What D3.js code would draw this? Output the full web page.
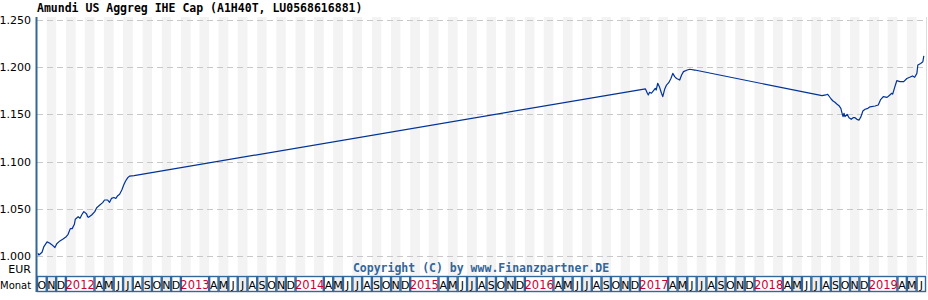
<!DOCTYPE html>
<html>
<head>
<meta charset="utf-8">
<script src="https://cdn.jsdelivr.net/npm/d3@7"></script>
<style>
  html, body { margin: 0; padding: 0; background: #ffffff; }
  svg { display: block; }
</style>
</head>
<body>
<svg id="chart" width="928" height="300"></svg>
<script>
// ---------- DATA ----------
const title = "Amundi US Aggreg IHE Cap (A1H40T, LU0568616881)";
const copyright = "Copyright (C) by www.Finanzpartner.DE";
const currencyLabel = "EUR";
const monthAxisLabel = "Monat";
const monthLetters = ["J","F","M","A","M","J","J","A","S","O","N","D"];
const yTicks = [1.000, 1.050, 1.100, 1.150, 1.200, 1.250];
const periodStart = "2011-10-01";
const periodEnd = "2019-07-01";

const dates = [
  "2011-10-04","2011-10-07","2011-10-17","2011-10-23","2011-11-02","2011-11-11","2011-11-17","2011-11-27",
  "2011-12-03","2011-12-13","2011-12-23","2012-01-02","2012-01-08","2012-01-15","2012-01-21","2012-01-28",
  "2012-01-31","2012-02-09","2012-02-15","2012-02-21","2012-02-27","2012-03-02","2012-03-07","2012-03-10",
  "2012-03-13","2012-03-23","2012-04-02","2012-04-08","2012-04-18","2012-04-27","2012-05-03","2012-05-13",
  "2012-05-19","2012-05-25","2012-06-02","2012-06-08","2012-06-14","2012-06-20","2012-06-27","2012-07-03",
  "2012-07-09","2012-07-16","2012-07-22","2012-08-05",
  "2017-01-19","2017-01-25","2017-01-28","2017-02-01","2017-02-07","2017-02-13","2017-02-19","2017-02-22",
  "2017-02-27","2017-03-05","2017-03-11","2017-03-15","2017-03-21","2017-03-27","2017-04-03","2017-04-10",
  "2017-04-16","2017-04-22","2017-04-28","2017-05-08","2017-05-14","2017-05-20","2017-06-01","2017-06-09",
  "2017-06-25",
  "2018-08-04","2018-08-16","2018-08-22","2018-08-25","2018-09-02","2018-09-08","2018-09-14","2018-09-21",
  "2018-09-27","2018-10-03","2018-10-06","2018-10-10","2018-10-13","2018-10-16","2018-10-23","2018-10-29",
  "2018-11-05","2018-11-11","2018-11-17","2018-11-23","2018-11-30","2018-12-06","2018-12-12","2018-12-19",
  "2018-12-28","2019-01-04","2019-01-20","2019-01-30","2019-02-06","2019-02-15","2019-02-27","2019-03-08",
  "2019-03-14","2019-03-17","2019-03-24","2019-03-30","2019-04-09","2019-04-21","2019-05-01","2019-05-10",
  "2019-05-19","2019-05-26","2019-06-02","2019-06-05","2019-06-14","2019-06-21","2019-06-24"
];
const values = [
  1.003,1.001,1.004,1.010,1.015,1.0135,1.012,1.009,
  1.013,1.016,1.018,1.0205,1.023,1.029,1.029,1.0336,
  1.039,1.0416,1.040,1.044,1.047,1.046,1.0445,1.0416,
  1.041,1.0434,1.047,1.0512,1.054,1.0565,1.0593,1.0593,
  1.0569,1.061,1.062,1.061,1.0639,1.0654,1.070,1.0752,
  1.0794,1.083,1.0847,1.0851,
  1.177,1.1724,1.1706,1.1734,1.1724,1.175,1.1776,1.1758,
  1.183,1.1787,1.1724,1.1688,1.1766,1.1811,1.1836,1.188,
  1.1935,1.190,1.188,1.1864,1.1917,1.1953,1.197,1.1978,
  1.197,
  1.1698,1.1706,1.1713,1.170,1.1663,1.1642,1.1628,1.1607,
  1.1592,1.1564,1.1522,1.1476,1.1512,1.1476,1.150,1.1465,
  1.1448,1.1465,1.1465,1.1448,1.144,1.1476,1.1536,1.1554,
  1.1564,1.158,1.1589,1.160,1.1653,1.1688,1.168,1.1706,
  1.1724,1.1715,1.1794,1.1857,1.1847,1.1847,1.188,1.1893,
  1.1907,1.1893,1.1935,1.2023,1.204,1.2058,1.2119
];

// ---------- LAYOUT ----------
const plotLeft = 37, plotRight = 926, plotTop = 17, plotBottom = 275;
const axisTop = 276, axisBottom = 292;
const blue = "#336699";

const parse = d3.utcParse("%Y-%m-%d");
const data = dates.map((d, i) => ({ date: parse(d), value: values[i] }));
const t0 = parse(periodStart), t1 = parse(periodEnd);

const x = d3.scaleUtc().domain([t0, t1]).range([plotLeft, plotRight]);
const y = d3.scaleLinear().domain([1.0, 1.25]).range([256, 20]);

const svg = d3.select("#chart");
svg.append("rect").attr("width", 928).attr("height", 300).attr("fill", "#fff");

const months = d3.utcMonth.range(t0, t1);

// month stripes
svg.append("g").selectAll("rect")
  .data(months.filter((m, i) => i % 2 === 1))
  .join("rect")
  .attr("x", d => x(d))
  .attr("y", plotTop)
  .attr("width", d => x(d3.utcMonth.offset(d, 1)) - x(d))
  .attr("height", plotBottom - plotTop)
  .attr("fill", "#f3f3f3");

// grid
svg.append("g").selectAll("line")
  .data(yTicks)
  .join("line")
  .attr("x1", plotLeft).attr("x2", plotRight)
  .attr("y1", d => Math.round(y(d)) + 0.5).attr("y2", d => Math.round(y(d)) + 0.5)
  .attr("stroke", "#c8c8c8").attr("stroke-width", 1).attr("stroke-dasharray", "6,4");

// y labels
svg.append("g").selectAll("text")
  .data(yTicks)
  .join("text")
  .attr("x", 31).attr("y", d => y(d) + 4)
  .attr("text-anchor", "end")
  .attr("font-family", "DejaVu Sans")
  .attr("font-size", 11)
  .attr("fill", "#000")
  .text(d => d3.format(".3f")(d));

svg.append("text").attr("x", 31).attr("y", 273).attr("text-anchor", "end")
  .attr("font-family", "DejaVu Sans").attr("font-size", 11).text(currencyLabel);
svg.append("text").attr("x", 0).attr("y", 289)
  .attr("font-family", "DejaVu Sans").attr("font-size", 10).text(monthAxisLabel);

// title
svg.append("text").attr("x", 37).attr("y", 12)
  .attr("font-family", "DejaVu Sans Mono").attr("font-weight", "bold").attr("font-size", 11.5)
  .attr("fill", "#000").text(title);

// copyright
svg.append("text").attr("x", 481).attr("y", 272).attr("text-anchor", "middle")
  .attr("font-family", "DejaVu Sans Mono").attr("font-weight", "bold").attr("font-size", 11.5)
  .attr("fill", blue).text(copyright);

// line
const line = d3.line().x(d => x(d.date)).y(d => y(d.value));
svg.append("path").datum(data)
  .attr("d", line)
  .attr("fill", "none")
  .attr("stroke", "#003399")
  .attr("stroke-width", 1.2)
  .attr("stroke-linejoin", "round");

// plot borders
svg.append("line").attr("x1", plotLeft - 0.5).attr("x2", plotLeft - 0.5)
  .attr("y1", plotTop).attr("y2", axisBottom).attr("stroke", blue).attr("stroke-width", 2);
svg.append("line").attr("x1", plotRight + 0.5).attr("x2", plotRight + 0.5)
  .attr("y1", plotTop).attr("y2", plotBottom).attr("stroke", "#dddddd").attr("stroke-width", 1);

// month axis boxes
const boxes = [];
months.forEach((m, i) => {
  const mo = m.getUTCMonth();
  if (mo === 1 || mo === 2) return;
  if (mo === 0) {
    boxes.push({ start: m, end: d3.utcMonth.offset(m, 3), label: String(m.getUTCFullYear()), year: true, idx: i });
  } else {
    boxes.push({ start: m, end: d3.utcMonth.offset(m, 1), label: monthLetters[mo], year: false, idx: i });
  }
});
const bx = svg.append("g");
bx.selectAll("rect")
  .data(boxes)
  .join("rect")
  .attr("x", d => x(d.start) + 0.5)
  .attr("y", axisTop + 0.5)
  .attr("width", d => x(d.end) - x(d.start) - 1)
  .attr("height", axisBottom - axisTop - 1)
  .attr("fill", d => (!d.year && d.idx % 2 === 1) ? "#eeeeee" : "#ffffff")
  .attr("stroke", blue)
  .attr("stroke-width", 1.4);
bx.selectAll("text")
  .data(boxes)
  .join("text")
  .attr("x", d => (x(d.start) + x(d.end)) / 2)
  .attr("y", 288.5)
  .attr("text-anchor", "middle")
  .attr("font-family", "DejaVu Sans")
  .attr("font-size", d => d.year ? 11.5 : 11)
  .attr("fill", d => d.year ? "#cc0033" : "#000")
  .text(d => d.label);
</script>
</body>
</html>
